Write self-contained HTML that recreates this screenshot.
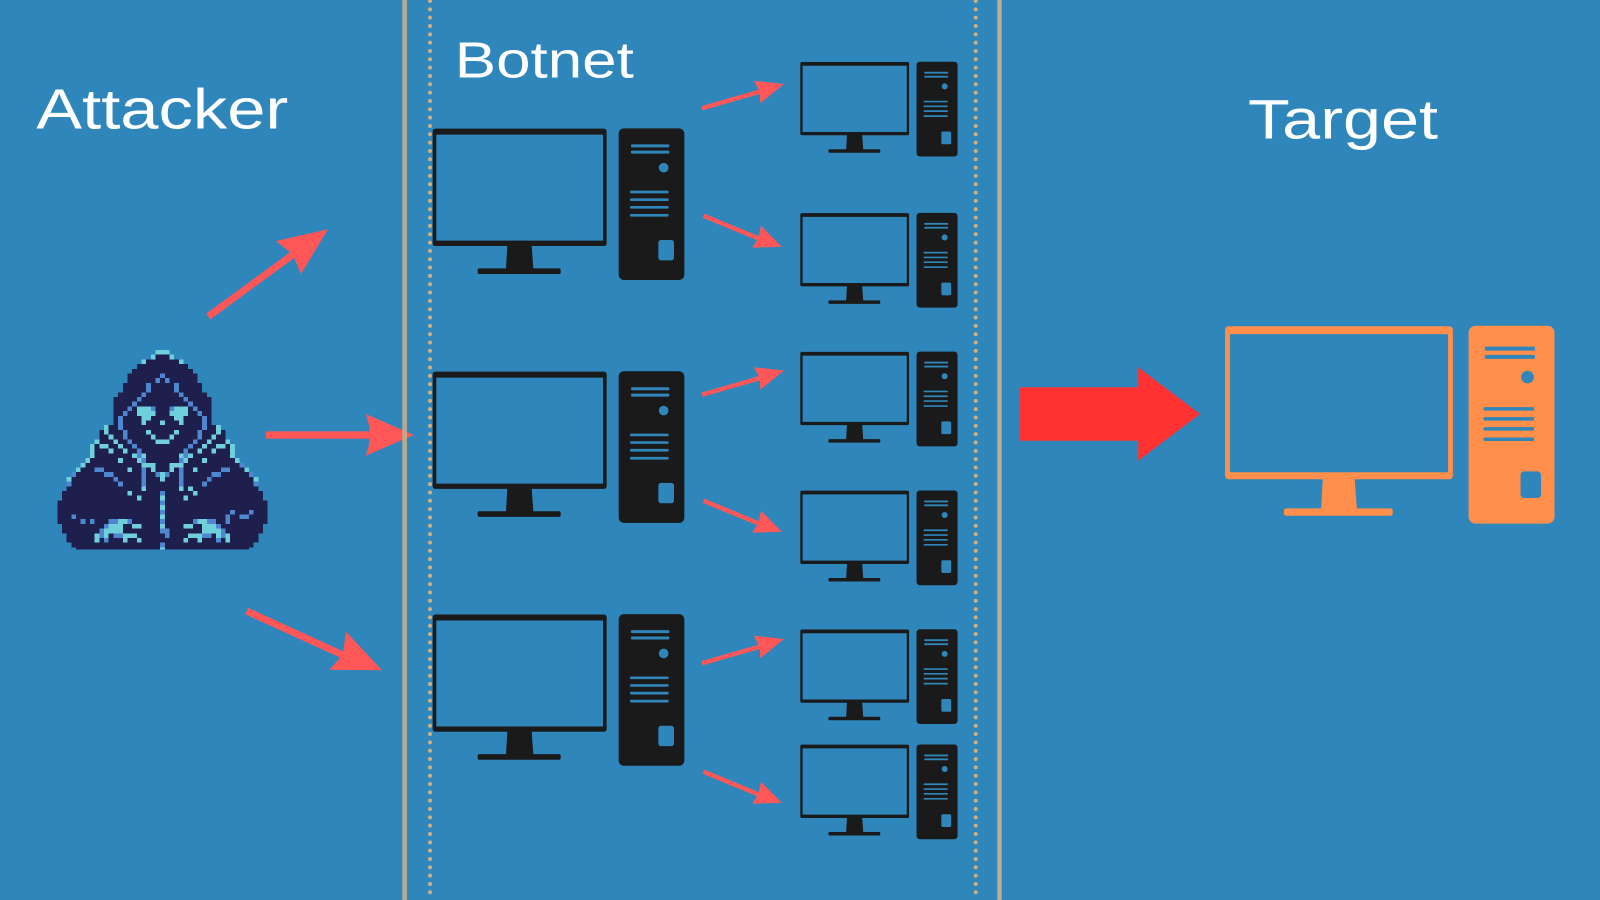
<!DOCTYPE html>
<html>
<head>
<meta charset="utf-8">
<style>
html,body{margin:0;padding:0;width:1600px;height:900px;overflow:hidden;background:#2f86bb}
svg{display:block}
text{font-family:"Liberation Sans",sans-serif;fill:#fff}
</style>
</head>
<body>
<svg width="1600" height="900" viewBox="0 0 1600 900" xmlns="http://www.w3.org/2000/svg">
<defs>
<g id="pc">
<path fill-rule="evenodd" d="M46 56H552a8 8 0 0 1 8 8V400a8 8 0 0 1-8 8H46a8 8 0 0 1-8-8V64a8 8 0 0 1 8-8ZM49 74V392H549V74Z"/>
<path d="M262 406H335L340 476H258Z"/>
<rect x="173" y="475" width="249" height="17" rx="5"/>
<rect x="596" y="55" width="197" height="455" rx="16"/>
<g fill="#2f86bb">
<rect x="633" y="103" width="115" height="9" rx="3"/>
<rect x="633" y="122" width="115" height="9" rx="3"/>
<circle cx="731" cy="173" r="14.5"/>
<rect x="630" y="242" width="116" height="8" rx="3"/>
<rect x="630" y="265" width="116" height="8" rx="3"/>
<rect x="630" y="288" width="116" height="8" rx="3"/>
<rect x="630" y="312" width="116" height="8" rx="3"/>
<rect x="715" y="390" width="47" height="61" rx="8"/>
</g>
</g>
<g id="up">
<line x1="702" y1="108.3" x2="762" y2="91" stroke="#ff5757" stroke-width="4.4"/>
<path fill="#ff5757" d="M754 80.7L784 84L760.3 103.3L759.7 91.7Z"/>
</g>
<g id="down">
<line x1="703.5" y1="215.7" x2="760" y2="239" stroke="#ff5757" stroke-width="4.4"/>
<path fill="#ff5757" d="M761 225.7L781.7 246.7L752.3 247.7L758.3 238.3Z"/>
</g>
</defs>

<rect width="1600" height="900" fill="#2f86bb"/>

<!-- big arrows -->
<g fill="#ff5757">
<line x1="208.3" y1="316.5" x2="295" y2="253" stroke="#ff5757" stroke-width="7"/>
<path d="M276 241L328 229.3L301 274L293 254.7Z"/>
<rect x="266" y="431.3" width="106" height="7.4"/>
<path d="M365.7 414L414 435L365.7 455.7Q374 435 365.7 414Z"/>
<line x1="246.7" y1="611" x2="345" y2="656" stroke="#ff5757" stroke-width="7"/>
<path d="M346 631.7L382 670.3L329.3 669.7L342.7 655Z"/>
</g>

<!-- dividers -->
<rect x="402.3" y="0" width="4.7" height="900" fill="#c0ae8e" opacity=".92"/>
<rect x="997.3" y="0" width="4.4" height="900" fill="#c0ae8e"/>
<line x1="430" y1="1" x2="430" y2="900" stroke="#cdb184" stroke-width="4" stroke-linecap="round" stroke-dasharray="0 8.33"/>
<line x1="975.7" y1="1" x2="975.7" y2="900" stroke="#cdb184" stroke-width="4" stroke-linecap="round" stroke-dasharray="0 8.33"/>

<!-- labels -->
<text x="36.3" y="128.5" font-size="57" textLength="252" lengthAdjust="spacingAndGlyphs">Attacker</text>
<text x="454.8" y="77.5" font-size="51" textLength="179" lengthAdjust="spacingAndGlyphs">Botnet</text>
<text x="1248" y="138.3" font-size="56" textLength="190" lengthAdjust="spacingAndGlyphs">Target</text>

<!-- large computers -->
<g fill="#1a1a1a">
<use href="#pc" transform="translate(420,110) scale(.33333)"/>
<use href="#pc" transform="translate(420,352.9) scale(.33333)"/>
<use href="#pc" transform="translate(420,595.8) scale(.33333)"/>
<use href="#pc" transform="translate(792.4,50.3) scale(.2083)"/>
<use href="#pc" transform="translate(792.4,201.4) scale(.2083)"/>
<use href="#pc" transform="translate(792.4,340.2) scale(.2083)"/>
<use href="#pc" transform="translate(792.4,479) scale(.2083)"/>
<use href="#pc" transform="translate(792.4,617.8) scale(.2083)"/>
<use href="#pc" transform="translate(792.4,733) scale(.2083)"/>
</g>
<g fill="#ff8f4b">
<use href="#pc" transform="translate(1208.5,301.9) scale(.4364,.4347)"/>
</g>

<!-- small arrows -->
<use href="#up"/>
<use href="#up" y="286.5"/>
<use href="#up" y="555"/>
<use href="#down"/>
<use href="#down" y="285"/>
<use href="#down" y="556"/>

<!-- red arrow -->
<path fill="#ff3131" d="M1020 387.3H1138.2V367.3L1200 414L1138.2 460.7V440.7H1020Z"/>

<!-- hooded figure -->
<g transform="translate(57.33,350) scale(4.673,4.7)" shape-rendering="crispEdges">
<path fill="#1f1f4e" d="M21 1h3v1h-3zM19 2h7v1h-7zM17 3h11v1h-11zM16 4h13v1h-13zM15 5h15v2h-15zM14 7h17v2h-17zM13 9h19v1h-19zM12 10h21v6h-21zM10 16h25v1h-25zM9 17h27v2h-27zM8 19h29v1h-29zM7 20h31v3h-31zM6 23h33v1h-33zM5 24h35v1h-35zM4 25h37v1h-37zM3 26h39v1h-39zM2 27h41v3h-41zM1 30h43v2h-43zM0 32h45v5h-45zM1 37h43v2h-43zM2 39h41v2h-41zM3 41h39v1h-39zM4 42h37v.4h-37z"/>
<path fill="#4f86d0" d="M22 5h1v1h-1zM21 6h1v1h-1zM23 6h1v1h-1zM19 7h1v2h-1zM25 7h1v2h-1zM18 9h1v1h-1zM26 9h1v1h-1zM17 10h1v1h-1zM27 10h1v1h-1zM16 11h1v1h-1zM28 11h1v1h-1zM15 12h1v1h-1zM29 12h1v1h-1zM14 13h1v1h-1zM30 13h1v1h-1zM13 14h1v3h-1zM31 14h1v3h-1zM14 17h1v2h-1zM30 17h1v2h-1zM15 19h1v1h-1zM29 19h1v1h-1zM16 20h1v1h-1zM28 20h1v1h-1zM17 21h1v1h-1zM27 21h1v1h-1zM17 22h1v1h-1zM27 22h1v1h-1zM18 23h1v1h-1zM26 23h1v1h-1z
M20 12h1v1h-1zM24 12h1v1h-1zM18 25h1v4h-1zM26 25h1v4h-1zM21 26h1v1h-1zM23 26h1v1h-1z
M8 25h2v1h-2zM10 26h2v1h-2zM12 27h1v1h-1zM13 28h1v1h-1zM35 25h2v1h-2zM33 26h2v1h-2zM32 27h1v1h-1zM31 28h1v1h-1z
M3 26h1v1h-1zM2 28h1v1h-1zM39 24h1v1h-1zM41 26h1v1h-1zM42 28h1v1h-1z
M3 35h1v1h-1zM5 36h1v1h-1zM7 36h1v1h-1zM41 34h1v1h-1zM39 35h2v1h-2zM36 35h1v2h-1zM37 34h1v1h-1z
M22 30h1v1h-1zM22 32h1v1h-1zM22 34h1v1h-1zM22 36h1v1h-1zM22 38h2v1h-2zM23 39h1v1h-1zM22 41h1v1h-1z
M11 36h2v1h-2zM15 36h1v1h-1zM10 37h1v1h-1zM9 38h1v1h-1zM9 39h1v1h-1zM12 39h2v1h-2zM10 40h1v1h-1z
M32 36h2v1h-2zM29 36h1v1h-1zM34 37h1v1h-1zM35 38h1v1h-1zM35 39h1v1h-1zM31 39h2v1h-2zM34 40h1v1h-1z"/>
<path fill="#6fd0dc" d="M21 0h3v1h-3zM20 1h1v1h-1zM24 1h1v1h-1zM18 2h1v1h-1zM26 2h1v1h-1zM10 16h1v2h-1zM34 16h1v2h-1zM11 18h1v1h-1zM33 18h1v1h-1zM12 19h1v1h-1zM32 19h1v1h-1zM8 19h1v1h-1zM36 19h1v1h-1zM7 20h1v3h-1zM37 20h1v3h-1zM9 20h2v1h-2zM34 20h2v1h-2zM13 20h1v1h-1zM31 20h1v1h-1zM11 21h1v1h-1zM33 21h1v1h-1zM14 21h1v1h-1zM30 21h1v1h-1zM16 22h1v1h-1zM28 22h1v1h-1zM18 22h1v1h-1zM26 22h1v1h-1zM13 23h1v1h-1zM31 23h1v1h-1zM6 23h1v1h-1zM38 23h1v1h-1zM17 23h1v1h-1zM27 23h1v1h-1zM5 24h1v1h-1zM4 25h1v1h-1zM40 25h1v1h-1zM2 27h1v1h-1zM42 27h1v1h-1z
M15 25h1v1h-1zM29 25h1v1h-1zM18 24h3v1h-3zM24 24h3v1h-3zM20 25h1v1h-1zM24 25h1v1h-1zM22 26h1v2h-1zM18 29h1v1h-1zM26 29h1v1h-1zM28 29h1v1h-1zM15 30h1v1h-1zM29 30h1v1h-1zM17 31h1v1h-1zM27 31h1v1h-1z
M22 31h1v1h-1zM22 33h1v1h-1zM22 35h1v1h-1zM22 37h1v1h-1zM22 42h1v.4h-1z
M17 12h3v1h-3zM25 12h3v1h-3zM17 13h4v1h-4zM24 13h4v1h-4zM18 14h2v1h-2zM25 14h2v1h-2zM18 15h1v1h-1zM26 15h1v1h-1zM22 15h1v1h-1zM19 17h1v1h-1zM25 17h1v1h-1zM20 18h1v1h-1zM24 18h1v1h-1zM21 19h3v1h-3z
M13 36h2v1h-2zM11 37h3v1h-3zM16 37h2v1h-2zM10 38h4v1h-4zM8 39h1v1h-1zM10 39h1v1h-1zM14 39h3v1h-3zM8 40h1v1h-1zM14 40h1v1h-1zM17 40h1v1h-1z
M30 36h2v1h-2zM31 37h3v1h-3zM27 37h2v1h-2zM31 38h4v1h-4zM36 39h1v1h-1zM34 39h1v1h-1zM28 39h3v1h-3zM36 40h1v1h-1zM30 40h1v1h-1zM27 40h1v1h-1z"/>
</g>
</svg>
</body>
</html>
